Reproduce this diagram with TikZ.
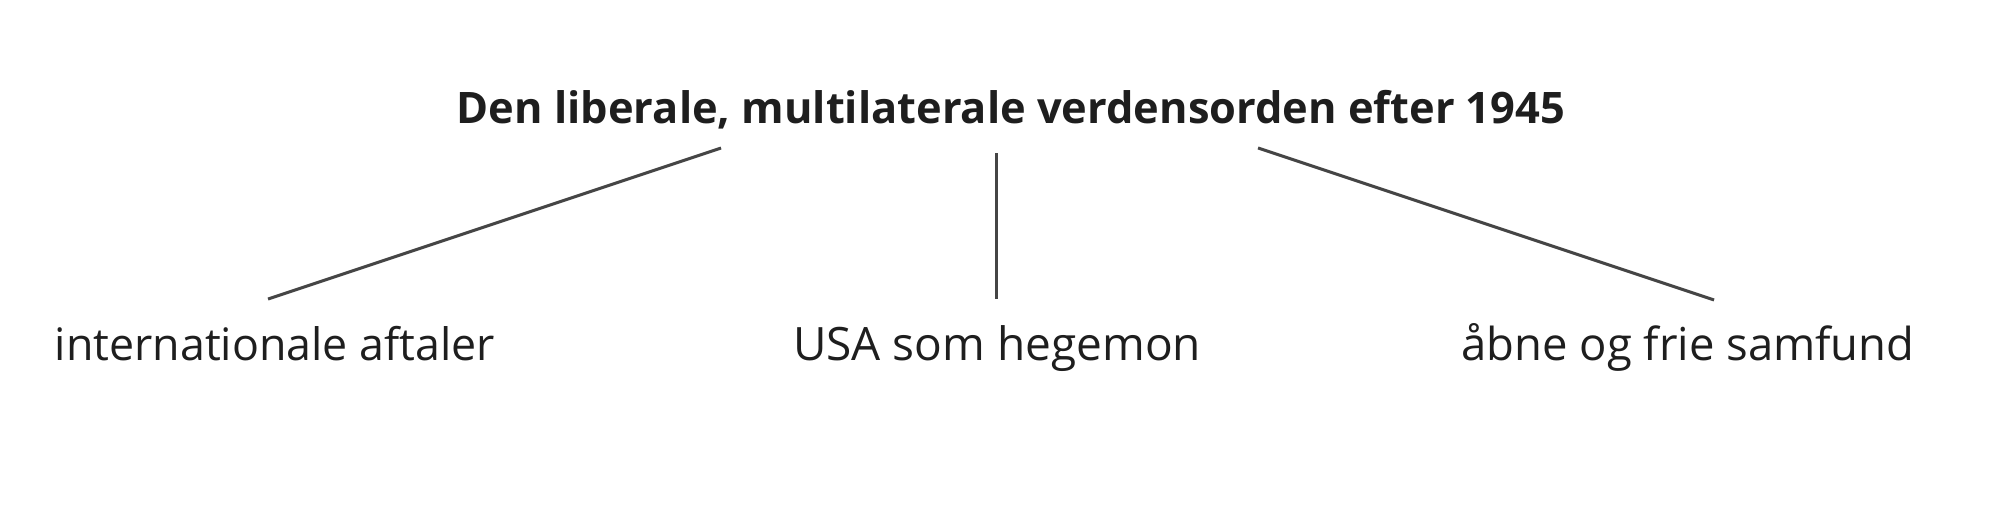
\documentclass[tikz,border=0pt]{standalone}
\usepackage{fontspec}
\usepackage{graphicx}
\setmainfont{Open Sans}
\definecolor{txt}{HTML}{1E1E1E}
\definecolor{ln}{HTML}{454545}
\tikzset{
  lbl/.style={anchor=base, inner sep=0pt, text=txt},
  conn/.style={draw=ln, line width=1.5pt}
}
\begin{document}
\begin{tikzpicture}[x=0.5pt, y=-0.5pt]
\useasboundingbox[fill=white] (0,0) rectangle (2000,509);
\node[lbl] (top) at (1011,123) {\resizebox{554pt}{!}{\bfseries Den liberale, multilaterale verdensorden efter 1945}};
\node[lbl] (a) at (275,360) {\resizebox{220pt}{!}{internationale aftaler}};
\node[lbl] (b) at (997,360) {\resizebox{204pt}{!}{USA som hegemon}};
\node[lbl] (c) at (1688,360) {\resizebox{226.5pt}{!}{åbne og frie samfund}};
\coordinate (ta) at (721,148);
\coordinate (tb) at (996,153);
\coordinate (tc) at (1258,148);
\coordinate (ea) at (268,299);
\coordinate (eb) at (996,299);
\coordinate (ec) at (1714,300);
\draw[conn] (ta) -- (ea);
\draw[conn] (tb) -- (eb);
\draw[conn] (tc) -- (ec);
\end{tikzpicture}
\end{document}
